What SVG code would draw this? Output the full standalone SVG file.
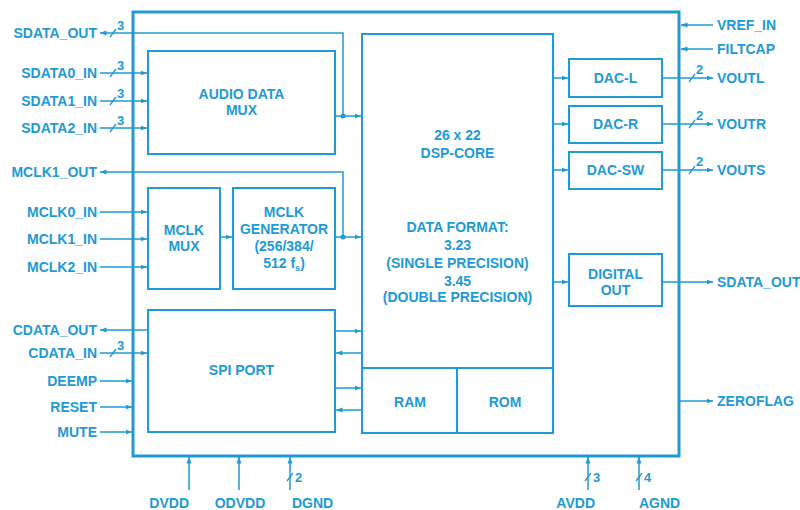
<svg xmlns="http://www.w3.org/2000/svg" width="800" height="510" viewBox="0 0 800 510">
<defs>
<marker id="ah" markerUnits="userSpaceOnUse" markerWidth="7" markerHeight="6" refX="6.5" refY="3" orient="auto">
<path d="M0,0.5 L6.5,3 L0,5.5 Z" fill="#1e9ad6"/>
</marker>
</defs>
<style>
.box{fill:none;stroke:#1e9ad6;stroke-width:2}
.outer{fill:none;stroke:#1e9ad6;stroke-width:3}
.ln{fill:none;stroke:#1e9ad6;stroke-width:1.5}
.ar{fill:none;stroke:#1e9ad6;stroke-width:1.5;marker-end:url(#ah)}
.sl{fill:none;stroke:#1e9ad6;stroke-width:1.3}
text{font-family:"Liberation Sans",Arial,sans-serif;font-weight:bold;font-size:14px;fill:#1e9ad6}
.c{text-anchor:middle}
.e{text-anchor:end}
.n{font-size:13px}
.dot{fill:#1e9ad6}
</style>
<rect width="800" height="510" fill="#ffffff"/>
<g id="chip"><rect class="outer" x="133" y="12" width="546" height="444"/></g>
<g id="audio-mux"><rect class="box" x="148" y="51" width="187" height="103"/>
<text class="c" x="241.5" y="99">AUDIO DATA</text><text class="c" x="241.5" y="115">MUX</text></g>
<g id="mclk-mux"><rect class="box" x="148" y="188" width="72" height="101"/>
<text class="c" x="184" y="235">MCLK</text><text class="c" x="184" y="251">MUX</text></g>
<g id="mclk-gen"><rect class="box" x="233" y="188" width="102" height="101"/>
<text class="c" x="284" y="217">MCLK</text><text class="c" x="284" y="234">GENERATOR</text>
<text class="c" x="284" y="251">(256/384/</text><text class="c" x="284" y="268">512 f<tspan font-size="9" dy="3">s</tspan><tspan dy="-3">)</tspan></text></g>
<g id="spi"><rect class="box" x="148" y="310" width="187" height="122"/>
<text class="c" x="241.5" y="375">SPI PORT</text></g>
<g id="dsp"><rect class="box" x="362" y="34" width="191" height="399"/>
<text class="c" x="457.5" y="140">26 x 22</text><text class="c" x="457.5" y="158">DSP-CORE</text>
<text class="c" x="457.5" y="232">DATA FORMAT:</text><text class="c" x="457.5" y="250">3.23</text>
<text class="c" x="457.5" y="268">(SINGLE PRECISION)</text><text class="c" x="457.5" y="286">3.45</text>
<text class="c" x="457.5" y="302">(DOUBLE PRECISION)</text></g>
<g id="ram"><path class="box" d="M362,368 H553 M457,368 V433"/><text class="c" x="410" y="407">RAM</text></g>
<g id="rom"><text class="c" x="505" y="407">ROM</text></g>
<g id="dac-l"><rect class="box" x="569" y="59" width="93" height="38"/><text class="c" x="615.5" y="83">DAC-L</text></g>
<g id="dac-r"><rect class="box" x="569" y="106" width="93" height="37"/><text class="c" x="615.5" y="129">DAC-R</text></g>
<g id="dac-sw"><rect class="box" x="569" y="152" width="93" height="37"/><text class="c" x="615.5" y="175">DAC-SW</text></g>
<g id="digital-out"><rect class="box" x="569" y="254" width="93" height="52"/>
<text class="c" x="615.5" y="279">DIGITAL</text><text class="c" x="615.5" y="295">OUT</text></g>
<g id="connectors">
<path class="ar" d="M343,116 V33 H100"/>
<path class="ar" d="M335,116 H361"/>
<circle class="dot" cx="343" cy="116" r="2.5"/>
<path class="ar" d="M100,73 H147"/>
<path class="ar" d="M100,101 H147"/>
<path class="ar" d="M100,128 H147"/>
<path class="ar" d="M343,237 V172 H100"/>
<path class="ar" d="M335,237 H361"/>
<circle class="dot" cx="343" cy="237" r="2.5"/>
<path class="ar" d="M220,237 H232"/>
<path class="ar" d="M100,212 H147"/>
<path class="ar" d="M100,239 H147"/>
<path class="ar" d="M100,267 H147"/>
<path class="ar" d="M148,330 H100"/>
<path class="ar" d="M100,353 H147"/>
<path class="ar" d="M100,381 H132"/>
<path class="ar" d="M100,407 H132"/>
<path class="ar" d="M100,432 H132"/>
<path class="ar" d="M335,331 H361"/>
<path class="ar" d="M362,353 H336"/>
<path class="ar" d="M335,388 H361"/>
<path class="ar" d="M362,410 H336"/>
<path class="ar" d="M189,490 V457"/>
<path class="ar" d="M239,490 V457"/>
<path class="ar" d="M290,490 V457"/>
<path class="ar" d="M588,490 V457"/>
<path class="ar" d="M639,490 V457"/>
<path class="ar" d="M553,78 H568"/>
<path class="ar" d="M553,124 H568"/>
<path class="ar" d="M553,170 H568"/>
<path class="ar" d="M553,282 H568"/>
<path class="ar" d="M662,78 H713"/>
<path class="ar" d="M662,124 H713"/>
<path class="ar" d="M662,170 H713"/>
<path class="ar" d="M662,282 H713"/>
<path class="ar" d="M713,25 H681"/>
<path class="ar" d="M713,49 H681"/>
<path class="ar" d="M679,401 H713"/>
<path class="sl" d="M110,37 L116,29 M110,77 L116,69 M110,105 L116,97 M110,132 L116,124 M110,357 L116,349 M689,82 L695,74 M689,128 L695,120 M689,174 L695,166 M287,481 L293,473 M585,481 L591,473 M636,481 L642,473"/>
<text class="n" x="117" y="30">3</text>
<text class="n" x="117" y="70">3</text>
<text class="n" x="117" y="98">3</text>
<text class="n" x="117" y="125">3</text>
<text class="n" x="117" y="350">3</text>
<text class="n" x="696" y="74">2</text>
<text class="n" x="696" y="120">2</text>
<text class="n" x="696" y="166">2</text>
<text class="n" x="295" y="482">2</text>
<text class="n" x="593" y="482">3</text>
<text class="n" x="644" y="482">4</text>
</g>
<g id="labels">
<text class="e" x="97" y="38">SDATA_OUT</text>
<text class="e" x="97" y="78">SDATA0_IN</text>
<text class="e" x="97" y="106">SDATA1_IN</text>
<text class="e" x="97" y="133">SDATA2_IN</text>
<text class="e" x="97" y="177">MCLK1_OUT</text>
<text class="e" x="97" y="217">MCLK0_IN</text>
<text class="e" x="97" y="244">MCLK1_IN</text>
<text class="e" x="97" y="272">MCLK2_IN</text>
<text class="e" x="97" y="335">CDATA_OUT</text>
<text class="e" x="97" y="358">CDATA_IN</text>
<text class="e" x="97" y="386">DEEMP</text>
<text class="e" x="97" y="412">RESET</text>
<text class="e" x="97" y="437">MUTE</text>
<text x="717" y="30">VREF_IN</text>
<text x="717" y="54">FILTCAP</text>
<text x="717" y="83">VOUTL</text>
<text x="717" y="129">VOUTR</text>
<text x="717" y="175">VOUTS</text>
<text x="717" y="287">SDATA_OUT</text>
<text x="717" y="406">ZEROFLAG</text>
<text class="e" x="189" y="508">DVDD</text>
<text class="c" x="240" y="508">ODVDD</text>
<text x="292" y="508">DGND</text>
<text class="e" x="595" y="508">AVDD</text>
<text x="639" y="508">AGND</text>
</g>
</svg>
